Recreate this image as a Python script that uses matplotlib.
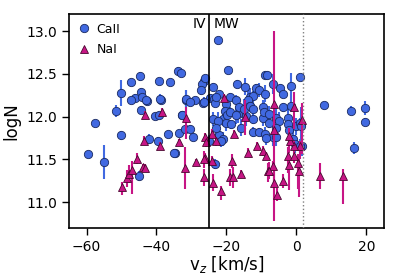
import numpy as np
import matplotlib
matplotlib.use("Agg")
import matplotlib.pyplot as plt
from matplotlib.lines import Line2D

# CaII components: velocity, logN, error
ca_v = [-57.5, -50.1, -51.7, -47.2, -44.8, -46.1, -47.2, -44.3, -42.7, -44.1,
        -44.3, -40.5, -39.4, -39.2, -38.8, -36.1, -33.8, -33.0, -32.6, -31.7,
        -28.9, -50.1, -42.0, -39.6, -36.6, -33.7, -31.8, -30.3, -29.6, -59.5,
        -54.9, -44.9, -34.7, -22.3, -19.5, -9.1, -8.4, -6.6, -4.6, -3.9,
        -1.4, 1.0, 8.0, 15.5, 19.7, 19.7, 16.4, 1.3, 1.6, -26.3,
        -27.0, -26.1, -26.6, -23.9, -22.2, -24.8, -23.6, -23.2, -17.0, -14.7,
        -11.5, -10.8, -8.9, -18.9, -17.2, -20.1, -13.4, -12.5, -13.9, -13.4,
        -21.0, -20.1, -18.7, -16.8, -14.4, -12.5, -9.6, -7.7, -5.8, -4.9,
        -2.5, -2.5, -0.1, 0.9, -16.3, -15.1, -13.4, -12.5, -9.6, -9.3,
        -7.7, -3.9, -1.5, -20.5, -19.9, -19.1, -17.2, -22.0, -21.0, -15.8,
        -12.5, -10.6, -9.1, -6.8, -5.8, -2.0, 1.3, -27.4, -23.1, -31.5,
        -30.4, -26.5, -43.0, -38.9, -32.8, -23.9, -22.5, -23.0, -24.9, -34.9,
        -23.2, -21.5, -8.7, -5.8, -1.0, -0.3, 0.9]
ca_n = [11.93, 12.28, 12.07, 12.40, 12.47, 12.22, 12.19, 12.29, 12.18, 12.23,
        12.08, 12.01, 12.02, 12.42, 12.20, 12.40, 12.53, 12.51, 12.02, 12.19,
        12.19, 11.78, 11.74, 11.72, 11.80, 11.81, 11.86, 11.86, 11.76, 11.56,
        11.47, 11.31, 11.57, 12.90, 12.54, 12.49, 12.49, 12.38, 12.34, 12.26,
        12.36, 12.46, 12.14, 12.07, 12.10, 11.94, 11.63, 11.91, 11.66, 12.42,
        12.38, 12.45, 12.16, 12.35, 12.26, 12.22, 12.21, 12.16, 12.38, 12.35,
        12.33, 12.31, 12.27, 12.23, 12.20, 12.15, 12.23, 12.24, 12.19, 12.12,
        11.97, 11.93, 11.91, 12.03, 12.01, 11.97, 11.99, 11.93, 11.99, 11.95,
        11.99, 11.91, 11.89, 11.93, 12.11, 12.09, 12.12, 12.09, 12.11, 12.05,
        12.03, 12.11, 12.13, 12.07, 12.02, 12.06, 12.02, 11.78, 11.74, 11.87,
        11.82, 11.82, 11.80, 11.76, 11.87, 11.84, 11.89, 12.31, 12.23, 12.21,
        12.17, 12.17, 12.19, 12.21, 12.02, 11.97, 11.95, 11.87, 11.72, 11.57,
        11.45, 11.72, 11.75, 11.76, 11.74, 11.68, 11.66]
ca_e = [0.03, 0.15, 0.07, 0.04, 0.05, 0.04, 0.03, 0.04, 0.03, 0.04,
        0.04, 0.03, 0.03, 0.03, 0.05, 0.03, 0.05, 0.03, 0.04, 0.12,
        0.03, 0.05, 0.06, 0.04, 0.03, 0.03, 0.03, 0.04, 0.05, 0.03,
        0.20, 0.06, 0.03, 0.03, 0.04, 0.04, 0.04, 0.12, 0.04, 0.04,
        0.15, 0.04, 0.03, 0.05, 0.08, 0.04, 0.07, 0.20, 0.12, 0.04,
        0.04, 0.04, 0.05, 0.04, 0.04, 0.05, 0.06, 0.04, 0.05, 0.10,
        0.05, 0.08, 0.10, 0.05, 0.05, 0.08, 0.10, 0.06, 0.12, 0.05,
        0.08, 0.10, 0.05, 0.10, 0.12, 0.05, 0.10, 0.06, 0.15, 0.10,
        0.12, 0.08, 0.10, 0.06, 0.10, 0.12, 0.06, 0.10, 0.08, 0.12,
        0.10, 0.05, 0.08, 0.06, 0.08, 0.05, 0.10, 0.06, 0.08, 0.10,
        0.06, 0.05, 0.08, 0.10, 0.12, 0.08, 0.06, 0.06, 0.05, 0.10,
        0.05, 0.06, 0.05, 0.06, 0.05, 0.08, 0.10, 0.08, 0.06, 0.04,
        0.06, 0.08, 0.08, 0.10, 0.12, 0.10, 0.08]

# NaI components: velocity, logN, lower / upper error
na_v = [-43.3, -38.4, -31.7, -49.8, -48.4, -47.8, -46.9, -45.6, -43.9, -43.7,
        -39.1, -33.7, -31.8, -28.7, -26.3, -23.9, -24.2, -26.1, -21.5, -19.1,
        -18.2, -18.4, -15.8, -13.9, -11.3, -9.6, -8.7, -8.2, -6.8, -6.3,
        -5.6, -3.9, -2.5, -2.0, -0.6, 0.4, 0.7, 0.9, -0.6, 6.8,
        13.4, -20.6, -14.7, -6.3, -0.8, 1.6, -17.7, -6.3, -1.7, -24.2,
        -2.2, -26.0, -26.3, -25.8, -22.9, -43.4, -7.7]
na_n = [12.02, 12.06, 11.99, 11.18, 11.28, 11.33, 11.38, 11.51, 11.41, 11.72,
        11.66, 11.70, 11.40, 11.47, 11.29, 11.23, 11.48, 11.52, 11.13, 11.29,
        11.29, 11.48, 11.33, 11.58, 11.66, 11.60, 11.54, 11.36, 11.42, 11.23,
        11.09, 11.25, 11.54, 11.44, 11.54, 11.46, 11.36, 11.66, 11.66, 11.31,
        11.31, 12.22, 12.00, 12.15, 12.11, 11.96, 11.80, 11.85, 11.72, 11.80,
        11.77, 11.76, 11.50, 11.70, 11.71, 11.40, 11.37]
na_lo = [0.05, 0.04, 0.25, 0.10, 0.10, 0.10, 0.28, 0.06, 0.04, 0.05,
         0.04, 0.04, 0.25, 0.04, 0.10, 0.10, 0.06, 0.05, 0.10, 0.10,
         0.12, 0.08, 0.05, 0.05, 0.04, 0.06, 0.05, 0.12, 0.06, 0.45,
         0.08, 0.08, 0.20, 0.30, 0.08, 0.30, 0.30, 0.15, 0.05, 0.15,
         0.33, 0.05, 0.22, 1.00, 0.25, 0.40, 0.05, 0.20, 0.05, 0.06,
         0.20, 0.05, 0.10, 0.06, 0.05, 0.05, 0.10]
na_hi = [0.05, 0.04, 0.12, 0.06, 0.10, 0.10, 0.10, 0.06, 0.04, 0.05,
         0.04, 0.04, 0.25, 0.04, 0.10, 0.10, 0.06, 0.05, 0.06, 0.10,
         0.12, 0.08, 0.05, 0.05, 0.04, 0.06, 0.05, 0.10, 0.06, 0.20,
         0.08, 0.08, 0.10, 0.10, 0.08, 0.10, 0.15, 0.05, 0.05, 0.15,
         0.08, 0.05, 0.20, 0.85, 0.18, 0.20, 0.05, 0.10, 0.05, 0.06,
         0.10, 0.05, 0.10, 0.06, 0.05, 0.05, 0.10]

v_iv = -25
v_dot = 2

blue = "#4169E1"
pink = "#C71585"

plt.rcParams['font.family'] = ['DejaVu Sans']
fig = plt.figure(figsize=(3.99, 2.79), dpi=100)
ax = fig.add_axes([0.173, 0.183, 0.789, 0.767])

ax.errorbar(ca_v, ca_n, yerr=ca_e, fmt='o', color=blue, ecolor=blue,
            elinewidth=1.5, capsize=0, markersize=6, markeredgecolor='#1a2a60',
            markeredgewidth=0.6, zorder=3)
ax.errorbar(na_v, na_n, yerr=[na_lo, na_hi], fmt='^', color=pink, ecolor=pink,
            elinewidth=1.5, capsize=0, markersize=6, markeredgecolor='#4a0830',
            markeredgewidth=0.6, zorder=4)

ax.axvline(v_iv, color='black', lw=1.2, zorder=5)
ax.axvline(v_dot, color='gray', lw=1.0, ls=':', zorder=5)
ax.text(v_iv - 0.8, 13.17, 'IV', ha='right', va='top', fontsize=10)
ax.text(v_iv + 1.2, 13.17, 'MW', ha='left', va='top', fontsize=10)

ax.set_xlim(-65, 25)
ax.set_ylim(10.7, 13.2)
ax.set_xticks([-60, -40, -20, 0, 20])
ax.set_yticks([11.0, 11.5, 12.0, 12.5, 13.0])
ax.set_xlabel(r'v$_z$ [km/s]', fontsize=12, labelpad=0)
ax.set_ylabel('logN', fontsize=12)
ax.tick_params(labelsize=10, length=5, width=1)
for s in ax.spines.values():
    s.set_linewidth(1.2)

handles = [
    Line2D([], [], marker='o', ls='none', color=blue, markersize=6,
           markeredgecolor='#1a2a60', markeredgewidth=0.6, label='CaII'),
    Line2D([], [], marker='^', ls='none', color=pink, markersize=6,
           markeredgecolor='#4a0830', markeredgewidth=0.6, label='NaI'),
]
ax.legend(handles=handles, loc='upper left', frameon=False, fontsize=9,
          handlelength=1.0, handletextpad=0.5, borderaxespad=0.3,
          labelspacing=0.6)

fig.savefig('out.png', dpi=100)
